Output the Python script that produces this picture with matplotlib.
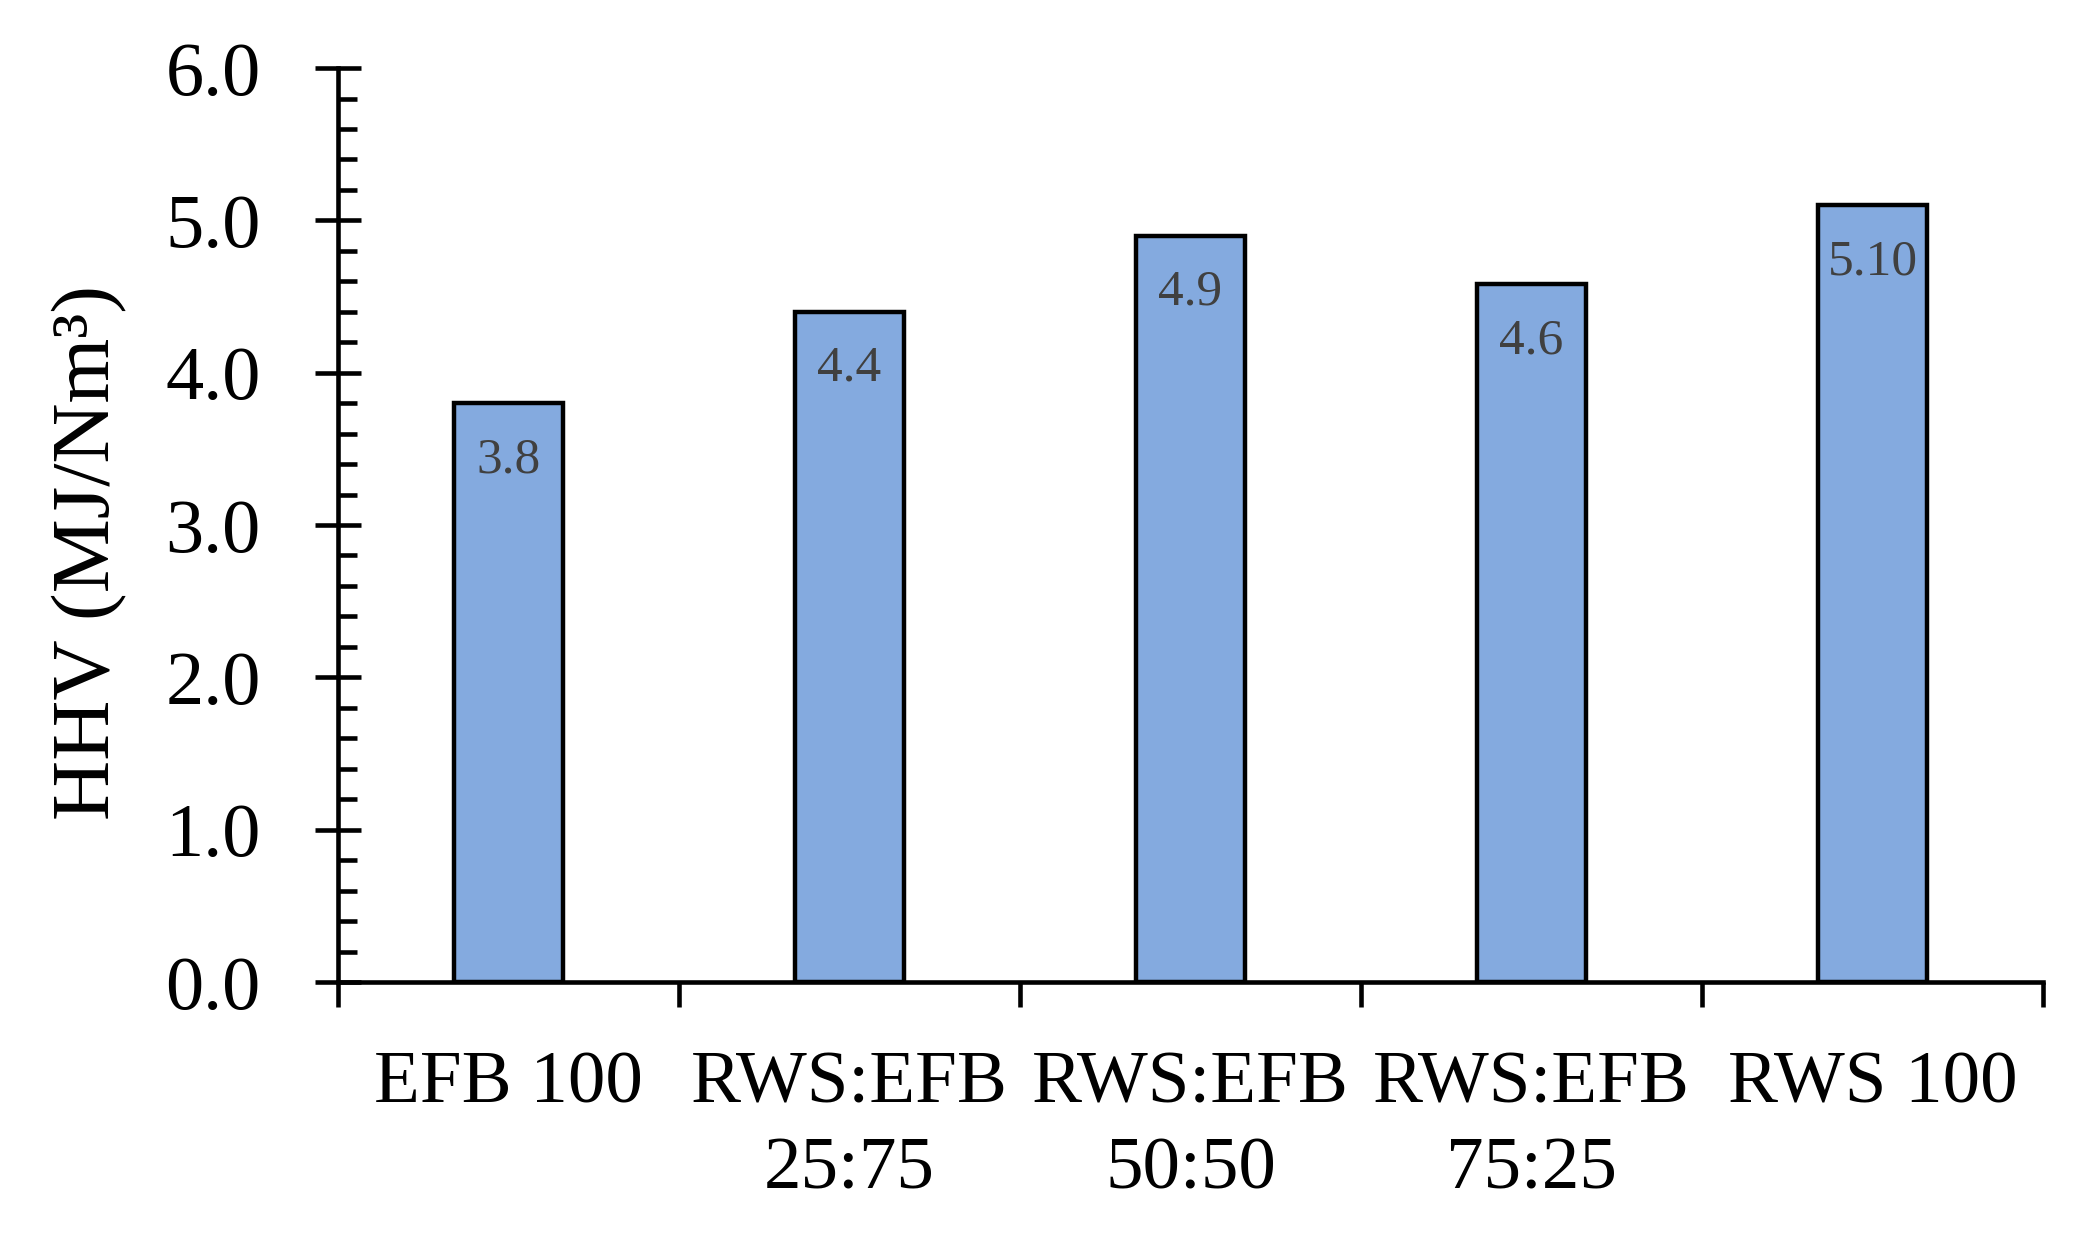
import matplotlib
matplotlib.use("Agg")
import matplotlib.pyplot as plt
from matplotlib.ticker import MultipleLocator, FixedLocator, NullFormatter

plt.rcParams['font.family'] = ['Liberation Serif', 'DejaVu Serif']

# data
categories = ["EFB 100", "RWS:EFB\n25:75", "RWS:EFB\n50:50", "RWS:EFB\n75:25", "RWS 100"]
hhv = [3.8, 4.4, 4.9, 4.58, 5.1]
bar_labels = ["3.8", "4.4", "4.9", "4.6", "5.10"]

fig = plt.figure(figsize=(20.86, 12.44), dpi=100)
ax = fig.add_axes([0.162, 0.2106, 0.8174, 0.7347])

x = list(range(len(categories)))
bars = ax.bar(x, hhv, width=0.32, color="#84AADF", edgecolor="black", linewidth=3.2, zorder=2)

# value labels just under the bar tops
for b, lab in zip(bars, bar_labels):
    ax.annotate(lab, (b.get_x() + b.get_width() / 2, b.get_height()),
                xytext=(0, -41), textcoords="offset points",
                ha="center", va="center", fontsize=37, color="#404040")

ax.set_xlim(-0.5, len(categories) - 0.5)
ax.set_ylim(0, 6)

for s in ["top", "right"]:
    ax.spines[s].set_visible(False)
for s in ["left", "bottom"]:
    ax.spines[s].set_linewidth(3.3)

# y axis: major ticks cross the axis, minor ticks inside
ax.yaxis.set_major_locator(MultipleLocator(1))
ax.yaxis.set_minor_locator(MultipleLocator(0.2))
ax.yaxis.set_major_formatter(matplotlib.ticker.FormatStrFormatter("%.1f"))
ax.tick_params(axis="y", which="major", direction="inout", length=33, width=3.3,
               labelsize=55, pad=39)
ax.tick_params(axis="y", which="minor", direction="in", length=14, width=3.3)

# x axis: ticks between categories, labels at centres
ax.xaxis.set_major_locator(FixedLocator([i - 0.5 for i in range(len(categories) + 1)]))
ax.xaxis.set_major_formatter(NullFormatter())
ax.xaxis.set_minor_locator(FixedLocator(x))
ax.set_xticklabels(categories, minor=True, fontsize=54, linespacing=1.35)
ax.tick_params(axis="x", which="major", direction="out", length=18, width=3.3)
ax.tick_params(axis="x", which="minor", length=0, pad=50)

fig.text(0.043, 0.5555, "HHV (MJ/Nm³)", rotation=90, ha="center", va="center", fontsize=60)

fig.savefig("out.png", dpi=100)
